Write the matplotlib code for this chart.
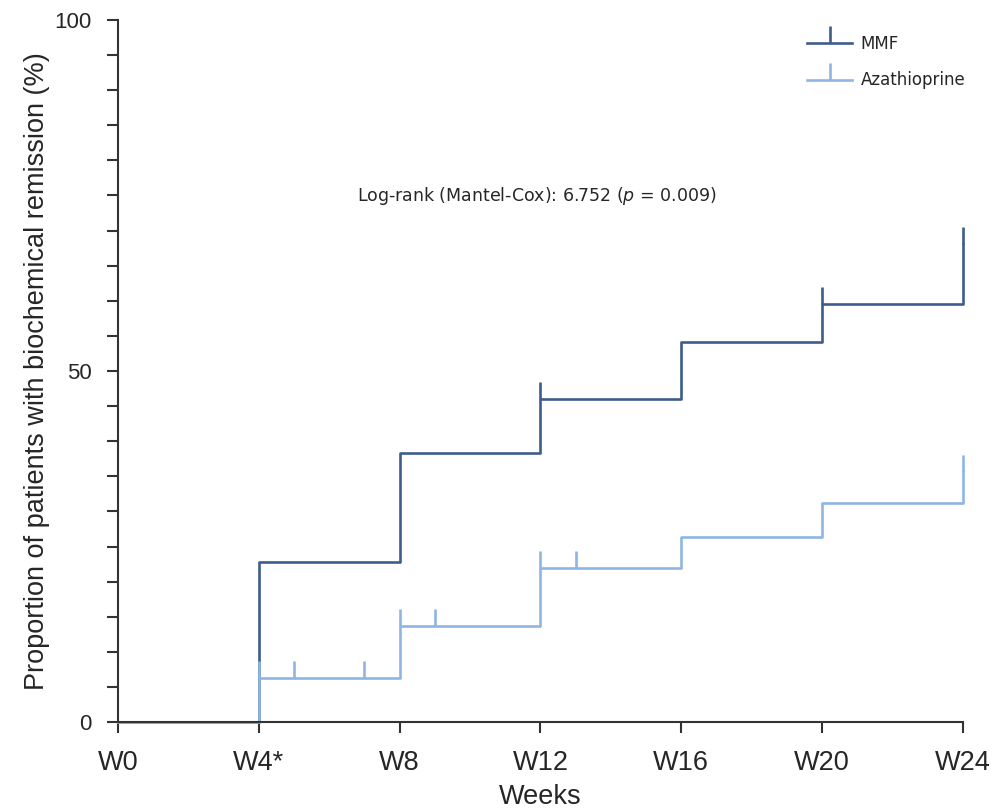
import matplotlib
matplotlib.use("Agg")
import matplotlib.pyplot as plt
from matplotlib.path import Path
from matplotlib.lines import Line2D

plt.rcParams["font.family"] = ["Liberation Sans", "DejaVu Sans"]

# Kaplan-Meier style cumulative remission (%) at each visit
WEEKS = [0, 4, 8, 12, 16, 20, 24]
WEEK_LABELS = ["W0", "W4*", "W8", "W12", "W16", "W20", "W24"]
MMF = [0, 22.8, 38.3, 46.0, 54.2, 59.5, 68.1]
AZA = [0, 6.3, 13.7, 21.9, 26.4, 31.2, 35.6]
MMF_CENSOR = [12, 20, 24]
AZA_CENSOR = [4, 5, 7, 8, 9, 12, 13, 24]
GROUPS = ["MMF", "Azathioprine"]

DARK = "#3d5d8a"
LIGHT = "#8fb5e3"
INK = "#262626"
TICK = Path([(0, 0), (0, 1)])   # upward censor tick


def level_at(times, vals, t):
    v = vals[0]
    for ti, vi in zip(times, vals):
        if ti <= t:
            v = vi
    return v


fig = plt.figure(figsize=(9.95, 8.09), dpi=100)
ax = fig.add_axes([0.1186, 0.1075, 0.8492, 0.8678])

for vals, cens, col in [(MMF, MMF_CENSOR, DARK), (AZA, AZA_CENSOR, LIGHT)]:
    ax.step(WEEKS, vals, where="post", color=col, lw=1.9, clip_on=False)
    cy = [level_at(WEEKS, vals, c) for c in cens]
    ax.plot(cens, cy, ls="none", marker=TICK, ms=24, mew=1.9, color=col, clip_on=False)

ax.set_xlim(0, 24)
ax.set_ylim(0, 100)
ax.set_xticks(WEEKS)
ax.set_xticklabels(WEEK_LABELS, fontsize=19.5, color=INK)
ax.set_yticks([0, 50, 100])
ax.set_yticklabels(["0", "50", "100"], fontsize=16, color=INK)
ax.set_yticks(range(0, 101, 5), minor=True)
ax.tick_params(axis="x", which="major", length=8, width=1.5, color="#333333", pad=12)
ax.tick_params(axis="y", which="major", length=8, width=1.5, color="#333333", pad=11)
ax.tick_params(axis="y", which="minor", length=8, width=1.5, color="#333333")
ax.tick_params(axis="x", which="minor", length=0)
for s in ("top", "right"):
    ax.spines[s].set_visible(False)
for s in ("left", "bottom"):
    ax.spines[s].set_linewidth(1.5)
    ax.spines[s].set_color("#333333")
ax.set_xlabel("Weeks", fontsize=19.5, color=INK, labelpad=6)
ax.set_ylabel("Proportion of patients with biochemical remission (%)", fontsize=19.5,
              color=INK, labelpad=3)

ax.text(11.9, 74.9, "Log-rank (Mantel-Cox): 6.752 ($\\it{p}$ = 0.009)", ha="center",
        va="center", fontsize=12.5, family="DejaVu Sans", color=INK)

handles = [Line2D([], [], color=c, lw=1.9, marker=TICK, ms=24, mew=1.9) for c in (DARK, LIGHT)]
leg = ax.legend(handles, GROUPS, loc="upper left", bbox_to_anchor=(0.808, 0.988),
                frameon=False, handlelength=2.7, handletextpad=0.5, labelspacing=1.1,
                borderaxespad=0, prop={"family": "DejaVu Sans", "size": 12})
for t in leg.get_texts():
    t.set_color(INK)

fig.savefig("out.png", dpi=100)
